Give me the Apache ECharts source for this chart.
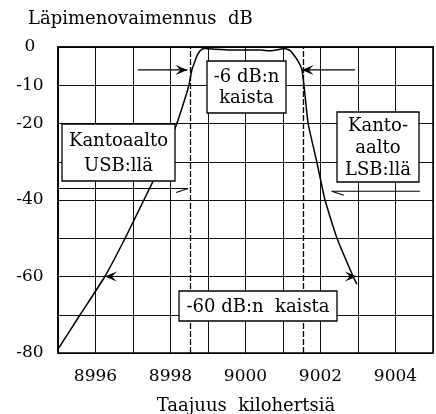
<!DOCTYPE html>
<html lang="fi">
<head>
    <meta charset="UTF-8">
    <title>Läpimenovaimennus</title>
    <script src="https://cdn.jsdelivr.net/npm/echarts@6/dist/echarts.min.js"></script>
    <style>
        body { margin: 0; background: #fff; }
        #chart { width: 436px; height: 414px; }
    </style>
</head>
<body>
    <div id="chart"></div>
    <script>
        // taajuus (kHz) ja vaimennus (dB), luettu kuvasta
        var freqs = [8995, 8995.59, 8996.25, 8996.79, 8997.29, 8997.54, 8997.77, 8998.17, 8998.37, 8998.49,
                     8998.57, 8998.63, 8998.72, 8998.82, 8998.92, 8999.2, 8999.6, 9000, 9000.4, 9000.65,
                     9000.85, 9001.05, 9001.2, 9001.32, 9001.42, 9001.5, 9001.56, 9001.67, 9001.9, 9002.12,
                     9002.44, 9002.87, 9002.97];
        var atten = [-79, -70, -60, -50, -40, -35, -30, -20, -14, -10,
                     -6, -4.3, -2.0, -0.7, -0.4, -0.6, -0.8, -0.8, -0.8, -1.0,
                     -0.7, -0.4, -1.0, -2.5, -4.0, -5.8, -10, -20, -30, -40,
                     -50, -60, -62];
        var xTicks = [8996, 8998, 9000, 9002, 9004];
        var yTicks = [0, -10, -20, -40, -60, -80];

        // -6 dB kaistan reunat
        var bandEdges = [8998.52, 9001.55];
        // nuolet: [alku, loppu, taso dB]
        var arrow6L = [8997.13, 8998.45, -6];
        var arrow6R = [9002.92, 9001.5, -6];
        var arrow60 = [8996.25, 9002.97, -60];
        var carrierUSB = [8995, 8998.47, -37];
        var carrierLSB = [9004.65, 9002.3, -37.7];

        var serif = '"DejaVu Serif", "Liberation Serif", serif';
        var chart = echarts.init(document.getElementById('chart'));

        var option = {
            animation: false,
            grid: { left: 58, top: 47, width: 375, height: 306 },
            xAxis: {
                type: 'value', min: 8995, max: 9005, interval: 1,
                axisLine: { lineStyle: { color: '#000', width: 1.5 } },
                axisTick: { show: false },
                axisLabel: {
                    color: '#000', fontFamily: serif, fontSize: 17, margin: 15,
                    formatter: function (v) { return xTicks.indexOf(v) >= 0 ? String(v) : ''; }
                },
                splitLine: { lineStyle: { color: '#111', width: 1 } }
            },
            yAxis: {
                type: 'value', min: -80, max: 0, interval: 10,
                axisLine: { show: true, lineStyle: { color: '#000', width: 1.5 } },
                axisTick: { show: false },
                axisLabel: {
                    color: '#000', fontFamily: serif, fontSize: 17, margin: 28, align: 'center',
                    formatter: function (v) { return yTicks.indexOf(v) >= 0 ? String(v) : ''; }
                },
                splitLine: { lineStyle: { color: '#111', width: 1 } }
            },
            series: [{
                type: 'line',
                data: freqs.map(function (f, i) { return [f, atten[i]]; }),
                smooth: 0.15,
                symbol: 'none',
                lineStyle: { color: '#000', width: 1.5 },
                markLine: {
                    silent: true,
                    symbol: 'none',
                    label: { show: false },
                    lineStyle: { color: '#000', width: 1.3, type: [6, 2] },
                    data: bandEdges.map(function (b) { return { xAxis: b }; })
                }
            }]
        };
        chart.setOption(option);

        var g = [];
        function px(x, y) { return chart.convertToPixel({ gridIndex: 0 }, [x, y]); }

        // kehys
        var tl = px(8995, 0), br = px(9005, -80);
        g.push({ type: 'rect', z: 50, shape: { x: tl[0], y: tl[1], width: br[0] - tl[0], height: br[1] - tl[1] },
                 style: { fill: 'none', stroke: '#000', lineWidth: 1.5 } });

        function line(a, b, w) {
            g.push({ type: 'polyline', z: 60, shape: { points: [a, b] }, style: { stroke: '#000', lineWidth: w || 1.2, fill: null } });
        }
        function head(tip, dir) {
            g.push({ type: 'polygon', z: 60, shape: { points: [
                tip, [tip[0] - dir * 12, tip[1] - 5], [tip[0] - dir * 7, tip[1]], [tip[0] - dir * 12, tip[1] + 5]
            ] }, style: { fill: '#000' } });
        }
        function arrow(a, double) {
            var p0 = px(a[0], a[2]), p1 = px(a[1], a[2]);
            var dir = p1[0] > p0[0] ? 1 : -1;
            line(p0, p1);
            head(p1, dir);
            if (double) head(p0, -dir);
        }
        function halfArrow(a) {
            var p0 = px(a[0], a[2]), p1 = px(a[1], a[2]);
            var dir = p1[0] > p0[0] ? 1 : -1;
            line(p0, p1, 1.1);
            line([p1[0] - dir * 12, p1[1] + 4], p1, 1.1);
        }
        arrow(arrow6L);
        arrow(arrow6R);
        arrow(arrow60, true);
        halfArrow(carrierUSB);
        halfArrow(carrierLSB);

        function box(x, y, w, h, text, lh) {
            g.push({ type: 'rect', z: 70, shape: { x: x, y: y, width: w, height: h },
                     style: { fill: '#fff', stroke: '#000', lineWidth: 1.3 } });
            g.push({ type: 'text', z: 71, x: x + w / 2, y: y + h / 2 + 1,
                     style: { text: text, font: '18px ' + serif, fill: '#000', align: 'center', verticalAlign: 'middle', lineHeight: lh } });
        }
        box(207, 61, 79, 52, '-6 dB:n\nkaista', 21);
        box(62, 124, 113, 57, 'Kantoaalto\nUSB:llä', 25);
        box(337, 112, 82, 70, 'Kanto-\naalto\nLSB:llä', 22);
        box(179, 291, 158, 30, '-60 dB:n  kaista', 20);

        g.push({ type: 'text', x: 28, y: 19, style: { text: 'Läpimenovaimennus  dB', font: '18px ' + serif, fill: '#000', verticalAlign: 'middle' } });
        g.push({ type: 'text', x: 246, y: 406, style: { text: 'Taajuus  kilohertsiä', font: '18px ' + serif, fill: '#000', align: 'center', verticalAlign: 'middle' } });

        chart.setOption({ graphic: g });
    </script>
</body>
</html>
